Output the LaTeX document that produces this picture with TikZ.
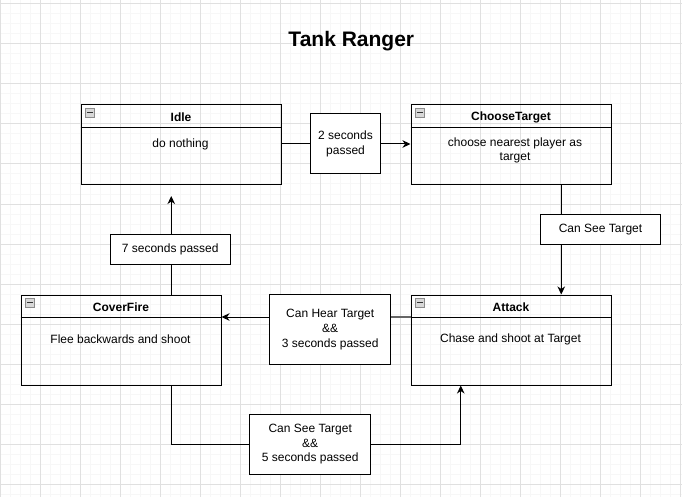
\documentclass[tikz,border=0pt]{standalone}
\usepackage{fontspec}
\setmainfont{Liberation Sans}
\usetikzlibrary{arrows.meta,calc}
\begin{document}
\begin{tikzpicture}[x=1pt,y=-1pt,
  minorgrid/.style={line width=1pt,draw=gray!6},
  majorgrid/.style={line width=1pt,draw=gray!24},
  state/.style={draw,line width=1pt,minimum width=200pt,inner sep=0pt,anchor=north west},
  lbl/.style={draw,line width=1pt,fill=white,inner sep=0pt,align=center,font=\fontsize{12}{14.6}\selectfont},
  txt/.style={inner sep=0pt,align=center,font=\fontsize{12}{14.6}\selectfont},
  hdr/.style={inner sep=0pt,font=\bfseries\fontsize{12}{14.6}\selectfont},
  minusbox/.style={draw=gray!90,fill=gray!30,line width=0.8pt,minimum size=9pt,inner sep=0pt},
  conn/.style={line width=1pt},
  grayconn/.style={line width=1.4pt,draw=black!60},
  arr/.style={conn,-{Stealth[length=8pt,width=7.5pt,inset=2.5pt]}}
]
\path[use as bounding box] (0,0) rectangle (682,497);
% grid
\foreach \x in {10,20,...,680} \draw[minorgrid] (\x,0) -- (\x,497);
\foreach \y in {4,14,...,494} \draw[minorgrid] (0,\y) -- (682,\y);
\foreach \x in {0,40,...,680} \draw[majorgrid] (\x,0) -- (\x,497);
\foreach \y in {4,44,...,484} \draw[majorgrid] (0,\y) -- (682,\y);

% title
\node[inner sep=0pt,anchor=base,font=\bfseries\fontsize{21}{25}\selectfont] (title) at (351.3,46.7) {Tank Ranger};

% states
\node[state,minimum height=80pt] (idle) at (80.5,104.5) {};
\node[state,minimum height=80pt] (choose) at (410.5,104.5) {};
\node[state,minimum height=90pt] (attack) at (410.5,294.5) {};
\node[state,minimum height=90pt] (cover) at (20.5,294.5) {};

\foreach \s/\t in {idle/Idle,choose/ChooseTarget,attack/Attack,cover/CoverFire}{
  \draw[conn] ($(\s.north west)+(0,23)$) -- ($(\s.north east)+(0,23)$);
  \node[hdr] (\s-h) at ($(\s.north)+(0,12.5)$) {\t};
  \node[minusbox] (\s-m) at ($(\s.north west)+(9.3,8)$) {};
  \draw[line width=1pt,black!80] ($(\s-m.west)+(2.2,0)$) -- ($(\s-m.east)+(-2.2,0)$);
}

\node[txt] (idle-b) at (180.5,144.5) {do nothing};
\node[txt] (choose-b) at (515,150.2) {choose nearest player as\\target};
\node[txt] (attack-b) at (510.5,339.5) {Chase and shoot at Target};
\node[txt] (cover-b) at (120.5,339.7) {Flee backwards and shoot};

% labels
\node[lbl,minimum width=70.5pt,minimum height=60pt] (l2) at (345.5,144) {2 seconds\\passed};
\node[lbl,minimum width=120.5pt,minimum height=30pt] (lsee) at (600.5,229.5) {Can See Target};
\node[lbl,minimum width=120.5pt,minimum height=70pt] (lhear) at (330.2,329.5) {Can Hear Target\\\&\&\\3 seconds passed};
\node[lbl,minimum width=120.5pt,minimum height=60pt] (lsee5) at (310.2,444.3) {Can See Target\\\&\&\\5 seconds passed};
\node[lbl,minimum width=120pt,minimum height=30pt] (l7) at (170.2,249) {7 seconds passed};

% connectors
\draw[conn] (l2.west -| idle.east) -- (l2.west);
\draw[arr] (l2.east) -- (l2.east -| choose.west);

\coordinate (cx) at ($(choose.south west)!0.75!(choose.south east)$);
\draw[conn] (cx) -- (cx |- lsee.north);
\draw[arr] (cx |- lsee.south) -- (cx |- attack.north);

\coordinate (ah) at ($(attack.north west)+(0,22.5)$);
\draw[grayconn] (ah) -- (ah -| lhear.east);
\draw[arr] (ah -| lhear.west) -- (ah -| cover.east);

\coordinate (ct) at ($(cover.north west)!0.75!(cover.north east)$);
\draw[conn] (ct) -- (ct |- l7.south);
\draw[arr,shorten >=10.5pt] (ct |- l7.north) -- (ct |- idle.south);

\coordinate (cb) at ($(cover.south west)!0.75!(cover.south east)$);
\coordinate (ab) at ($(attack.south west)!0.25!(attack.south east)$);
\draw[conn] (cb) |- (lsee5.west);
\draw[arr] (lsee5.east) -| (ab);
\end{tikzpicture}
\end{document}
